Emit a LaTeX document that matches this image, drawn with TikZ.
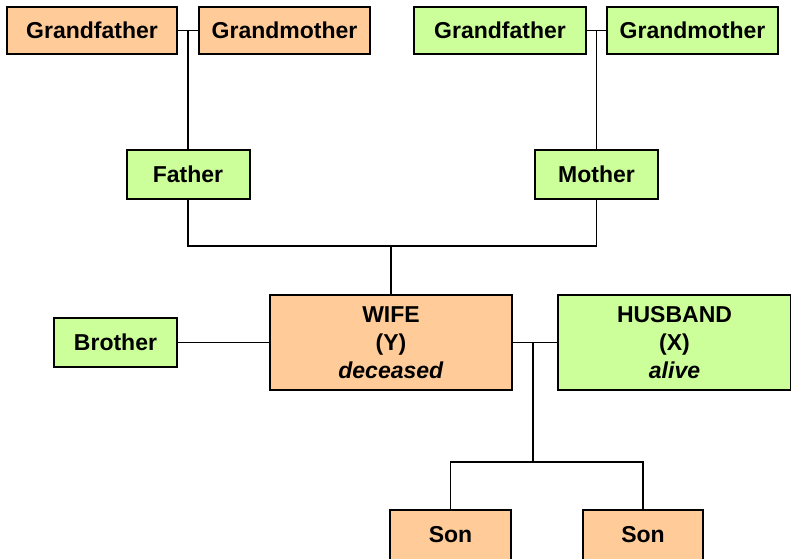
\documentclass[tikz,border=0pt]{standalone}
\usepackage{fontspec}
\setmainfont{Liberation Sans}
\definecolor{deadorange}{HTML}{FFCC99}
\definecolor{alivegreen}{HTML}{CCFF99}
\begin{document}
\begin{tikzpicture}[x=1pt,y=-1pt]

\tikzset{person/.style={draw=black,line width=2pt,inner sep=0pt,align=center,
    font=\fontsize{23}{28}\selectfont\bfseries},
  dead/.style={person,fill=deadorange},
  living/.style={person,fill=alivegreen},
  link/.style={draw=black,line width=1.6pt}}

\useasboundingbox (0,0) rectangle (791,558);

%% Grandparents
\node[dead,minimum width=170,minimum height=47] (gfL) at (92,30.5) {Grandfather};
\node[dead,minimum width=171,minimum height=47] (gmL) at (284.5,30.5) {Grandmother};
\node[living,minimum width=172,minimum height=47] (gfR) at (500,30.5) {Grandfather};
\node[living,minimum width=171,minimum height=47] (gmR) at (692.5,30.5) {Grandmother};

%% Parents
\node[living,minimum width=123,minimum height=49] (father) at (188,174.5) {Father};
\node[living,minimum width=123,minimum height=49] (mother) at (596.5,174.5) {Mother};

%% Couple
\node[dead,minimum width=242,minimum height=95] (wife) at (391,342.5) {WIFE\\(Y)\\\textit{deceased}};
\node[living,minimum width=233,minimum height=95] (husband) at (674.5,342.5) {HUSBAND\\(X)\\\textit{alive}};
\node[living,minimum width=123,minimum height=49] (brother) at (115.5,342.5) {Brother};

%% Children
\node[dead,minimum width=121,minimum height=50] (sonA) at (450.5,535) {Son};
\node[dead,minimum width=120,minimum height=50] (sonB) at (643,535) {Son};

%% Lines
\coordinate (parents) at (391,246);
\coordinate (marriage) at (533,342.5);
\coordinate (kids) at (533,462);

\draw[link] (gfL) -- (gmL);
\draw[link] (gfR) -- (gmR);
\draw[link] (father.north) -- (father.north |- gfL.east);
\draw[link] (mother.north) -- (mother.north |- gfR.east);
\draw[link] (father.south) |- (parents) -| (mother.south);
\draw[link] (parents) -- (wife.north);
\draw[link] (brother) -- (wife);
\draw[link] (wife) -- (husband);
\draw[link] (marriage) -- (kids);
\draw[link] (sonA.north) |- (kids) -| (sonB.north);

\end{tikzpicture}
\end{document}
